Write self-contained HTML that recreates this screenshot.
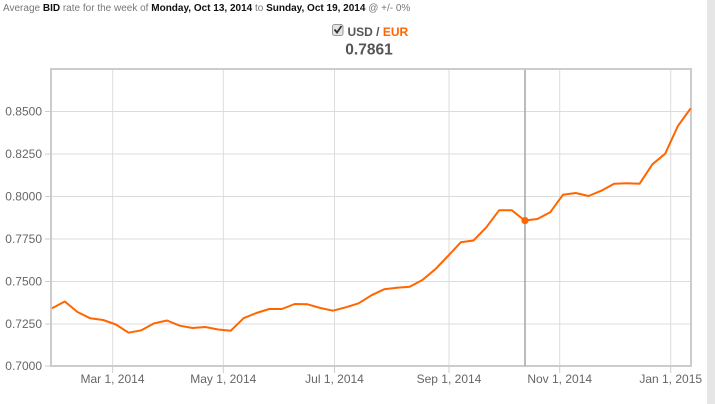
<!DOCTYPE html>
<html><head><meta charset="utf-8"><style>
html,body{margin:0;padding:0;background:#fff;}
body{width:715px;height:404px;overflow:hidden;position:relative;font-family:"Liberation Sans",Arial,sans-serif;}
svg{position:absolute;left:0;top:0;}
</style></head><body>
<svg width="715" height="404" viewBox="0 0 715 404" xmlns="http://www.w3.org/2000/svg" font-family="Liberation Sans, Arial, sans-serif">
<rect x="707" y="0" width="8" height="404" fill="#e6e6e6"/>
<text x="3" y="11" font-size="10" fill="#777">Average <tspan font-weight="bold" fill="#111">BID</tspan> rate for the week of <tspan font-weight="bold" fill="#111">Monday, Oct 13, 2014</tspan> to <tspan font-weight="bold" fill="#111">Sunday, Oct 19, 2014</tspan> @ +/- 0%</text>
<rect x="332.5" y="24.5" width="10.5" height="11" rx="2" fill="#e4e4e4" stroke="#999" stroke-width="1"/>
<path d="M334.5 29.5 L337 32.5 L341.5 26" fill="none" stroke="#333" stroke-width="1.8"/>
<text x="347.5" y="36" font-size="12" font-weight="bold" fill="#555">USD / <tspan fill="#ff6600">EUR</tspan></text>
<text x="369" y="54.3" font-size="15.5" font-weight="bold" fill="#555" text-anchor="middle">0.7861</text>
<g stroke="#dcdcdc" stroke-width="1">
<line x1="52" y1="111.5" x2="690" y2="111.5"/>
<line x1="52" y1="154" x2="690" y2="154"/>
<line x1="52" y1="196.5" x2="690" y2="196.5"/>
<line x1="52" y1="239" x2="690" y2="239"/>
<line x1="52" y1="281.5" x2="690" y2="281.5"/>
<line x1="52" y1="324" x2="690" y2="324"/>
<line x1="112.7" y1="70" x2="112.7" y2="366"/>
<line x1="223.3" y1="70" x2="223.3" y2="366"/>
<line x1="334.5" y1="70" x2="334.5" y2="366"/>
<line x1="449" y1="70" x2="449" y2="366"/>
<line x1="559.7" y1="70" x2="559.7" y2="366"/>
<line x1="670.7" y1="70" x2="670.7" y2="366"/>
</g>
<g stroke="#cccccc" stroke-width="1">
<line x1="45" y1="111.5" x2="51" y2="111.5"/>
<line x1="45" y1="154" x2="51" y2="154"/>
<line x1="45" y1="196.5" x2="51" y2="196.5"/>
<line x1="45" y1="239" x2="51" y2="239"/>
<line x1="45" y1="281.5" x2="51" y2="281.5"/>
<line x1="45" y1="324" x2="51" y2="324"/>
<line x1="45" y1="366" x2="51" y2="366"/>
<line x1="112.7" y1="366" x2="112.7" y2="373"/>
<line x1="223.3" y1="366" x2="223.3" y2="373"/>
<line x1="334.5" y1="366" x2="334.5" y2="373"/>
<line x1="449" y1="366" x2="449" y2="373"/>
<line x1="559.7" y1="366" x2="559.7" y2="373"/>
<line x1="670.7" y1="366" x2="670.7" y2="373"/>
</g>
<rect x="51" y="69" width="640" height="297" fill="none" stroke="#cccccc" stroke-width="2"/>
<g font-size="12" fill="#666" text-anchor="end">
<text x="42" y="115.5">0.8500</text>
<text x="42" y="158">0.8250</text>
<text x="42" y="200.5">0.8000</text>
<text x="42" y="243">0.7750</text>
<text x="42" y="285.5">0.7500</text>
<text x="42" y="328">0.7250</text>
<text x="42" y="370">0.7000</text>
</g>
<g font-size="12" fill="#666" text-anchor="middle">
<text x="112.5" y="383">Mar 1, 2014</text>
<text x="223.3" y="383">May 1, 2014</text>
<text x="334.5" y="383">Jul 1, 2014</text>
<text x="449" y="383">Sep 1, 2014</text>
<text x="559.7" y="383">Nov 1, 2014</text>
<text x="670.7" y="383">Jan 1, 2015</text>
</g>
<line x1="525" y1="70" x2="525" y2="366" stroke="#aaaaaa" stroke-width="1.6"/>
<polyline fill="none" stroke="#ff6600" stroke-width="2" stroke-linejoin="round" points="52.0,308.3 64.8,301.5 77.5,312 90.3,318.3 103.1,320 115.9,324.5 128.6,332.7 141.4,330.3 154.2,323.3 167.0,320.5 179.7,325.7 192.5,328 205.3,327 218.1,329.5 230.8,330.7 243.6,318.2 256.4,313 269.2,309 281.9,309 294.7,304 307.5,304.3 320.3,308 333.0,310.7 345.8,307.3 358.6,303.3 371.4,295.3 384.1,289.3 396.9,287.7 409.7,286.7 422.4,280 435.2,269.3 448.0,256 460.8,242.3 473.5,240.5 486.3,227.3 499.1,210.3 511.9,210.3 524.6,220.5 537.4,219 550.2,212.3 563.0,194.7 575.7,193 588.5,196 601.3,190.7 614.1,183.7 626.8,183.3 639.6,183.7 652.4,164.3 665.2,153.7 677.9,126 690.7,108.3"/>
<circle cx="525" cy="220.6" r="3.6" fill="#ff6600"/>
</svg>
</body></html>
